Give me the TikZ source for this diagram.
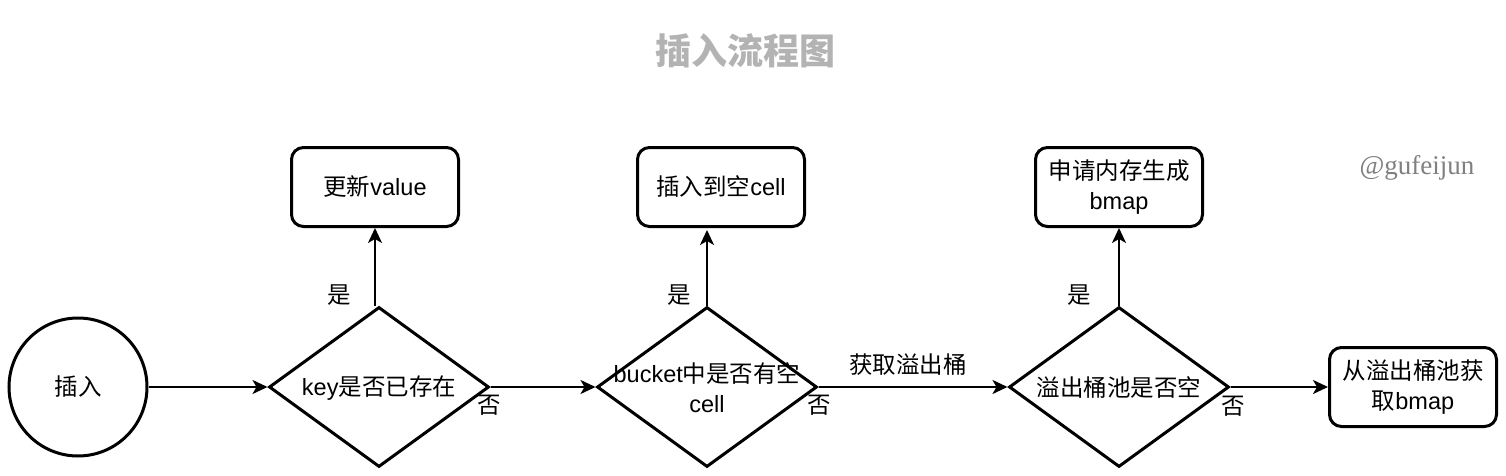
\documentclass[tikz,border=0pt]{standalone}
\usepackage{fontspec}
\setmainfont{Liberation Sans}
\newfontfamily\cjk{Noto Sans CJK SC}
\newfontfamily\wmserif{Liberation Serif}
\usetikzlibrary{shapes.geometric,arrows.meta}
\newcommand\zh[1]{{\cjk #1}}
\definecolor{titlegray}{HTML}{B3B3B3}
\definecolor{markgray}{HTML}{808080}
\begin{document}
\begin{tikzpicture}[x=1pt,y=-1pt,
  txt/.style={font=\fontsize{23.5}{30}\selectfont, align=center, inner sep=0pt},
  dia/.style={shape=diamond, draw, line width=3pt, minimum width=220pt, minimum height=160pt, inner sep=0pt},
  startc/.style={shape=circle, draw, line width=3pt, minimum size=138pt, inner sep=0pt, font=\fontsize{23.5}{30}\selectfont},
  box/.style={shape=rectangle, draw, line width=3pt, rounded corners=12pt, minimum width=167pt, minimum height=79pt, align=center, inner sep=0pt, font=\fontsize{23.5}{30}\selectfont},
  arr/.style={line width=2pt, -{Stealth[length=15pt,width=14pt,inset=4pt]}},
  ttl/.style={font=\cjk\bfseries\fontsize{36}{40}\selectfont, text=titlegray, inner sep=0pt},
  wm/.style={font=\wmserif\fontsize{27}{30}\selectfont, text=markgray, inner sep=0pt}
]
\useasboundingbox (0,0) rectangle (1506,476);
\node[ttl] (title) at (745,51) {插入流程图};
\node[wm] (mark) at (1417,168) {@gufeijun};
\node[startc] (start) at (78,387) {\zh{插入}};
\node[dia] (d1) at (379,387) {};
\node[txt] (t1) at (379,388) {key\zh{是否已存在}};
\node[dia] (d2) at (707,387) {};
\node[txt] (t2) at (707,388) {bucket\zh{中是否有空}\\cell};
\node[dia] (d3) at (1119,387) {};
\node[txt] (t3) at (1119,388) {\zh{溢出桶池是否空}};
\node[box] (b1) at (375,187) {\zh{更新}value};
\node[box] (b2) at (721,187) {\zh{插入到空}cell};
\node[box] (b3) at (1119,187) {\zh{申请内存生成}\\bmap};
\node[box] (b4) at (1413,387) {\zh{从溢出桶池获}\\\zh{取}bmap};
\draw[arr] (start) -- (d1);
\draw[arr] (d1) -- (d2);
\draw[arr] (d2) -- (d3);
\draw[arr] (d3) -- (b4);
\draw[arr] (d1.north -| b1.south) -- (b1.south);
\draw[arr] (d2.north) -- ([yshift=-2pt]d2.north |- b2.south);
\draw[arr] (d3.north) -- (b3.south);
\node[txt] (y1) at (339,295) {\zh{是}};
\node[txt] (y2) at (679,295) {\zh{是}};
\node[txt] (y3) at (1079,295) {\zh{是}};
\node[txt] (n1) at (489,405) {\zh{否}};
\node[txt] (n2) at (819,405) {\zh{否}};
\node[txt] (n3) at (1233,406) {\zh{否}};
\node[txt] (lab) at (908,365) {\zh{获取溢出桶}};
\end{tikzpicture}
\end{document}
